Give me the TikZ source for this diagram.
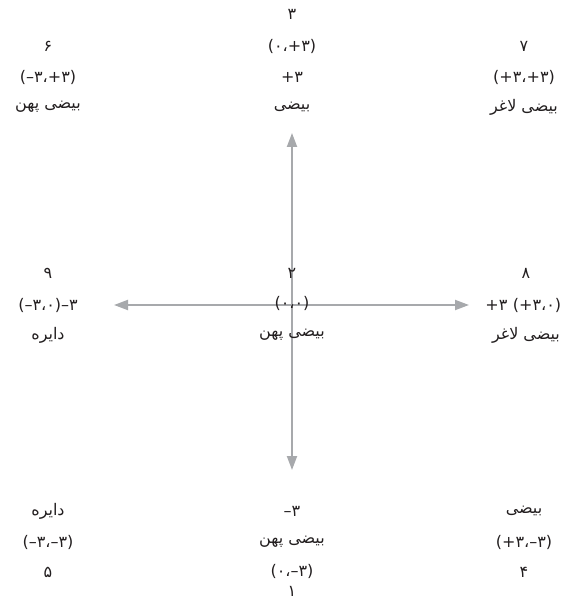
\documentclass[tikz,border=0pt]{standalone}
\usepackage{fontspec}
\usepackage{xcolor}
\usepackage{tikz}
\usetikzlibrary{arrows.meta,positioning}
\TeXXeTstate=1
\newfontfamily\arabicfont[Script=Arabic]{DejaVu Sans}
\definecolor{axisgray}{HTML}{A7A9AC}
\definecolor{textdark}{HTML}{231F20}
\tikzset{
  lbl/.style={font=\arabicfont\fontsize{16}{19}\selectfont,text=textdark,inner sep=0pt,anchor=center},
  axis/.style={{Triangle[length=14pt,width=10pt]}-{Triangle[length=14pt,width=10pt]},line width=2pt,draw=axisgray}
}

\begin{document}
\begin{tikzpicture}[x=1pt,y=-1pt]
  \useasboundingbox (0,0) rectangle (574,601);
  % axes
  \coordinate (ytop) at (292,133);
  \coordinate (ybot) at (292,470);
  \coordinate (xleft) at (114,305);
  \coordinate (xright) at (469,305);
  \draw[axis] (ybot) -- (ytop);
  \draw[axis] (xleft) -- (xright);
  % top row
  \node[lbl] (num6) at (48,46) {۶};
  \node[lbl] (pt6) at (48,77) {(۳+،۳–)};
  \node[lbl] (name6) at (48,107) {\beginR بیضی پهن\endR};
  \node[lbl] (num3) at (292,14) {۳};
  \node[lbl] (pt3) at (292,46) {(۳+،۰)};
  \node[lbl] (ymax) at (292,77) {۳+};
  \node[lbl] (name3) at (292,107) {\beginR بیضی\endR};
  \node[lbl] (num7) at (524,46) {۷};
  \node[lbl] (pt7) at (524,77) {(۳+،۳+)};
  \node[lbl] (name7) at (524,107) {\beginR بیضی لاغر\endR};
  % middle row
  \node[lbl] (num9) at (48,273) {۹};
  \node[lbl] (pt9) at (48,305) {۳–(۳،۰–)};
  \node[lbl] (name9) at (48,335) {\beginR دایره\endR};
  \node[lbl] (num2) at (292,273) {۲};
  \node[lbl] (pt2) at (292,303) {(۰،۰)};
  \node[lbl] (name2) at (292,335) {\beginR بیضی پهن\endR};
  \node[lbl] (num8) at (526,273) {۸};
  \node[lbl] (pt8) at (537,305) {(۳،۰+)};
  \node[lbl, left=5pt of pt8] (xmax) {۳+};
  \node[lbl] (name8) at (526,335) {\beginR بیضی لاغر\endR};
  % bottom row
  \node[lbl] (name5) at (48,511) {\beginR دایره\endR};
  \node[lbl] (pt5) at (48,542) {(۳–،۳–)};
  \node[lbl] (num5) at (48,572) {۵};
  \node[lbl] (ymin) at (292,511) {۳–};
  \node[lbl] (name1) at (292,542) {\beginR بیضی پهن\endR};
  \node[lbl] (pt1) at (292,571) {(۳–،۰)};
  \node[lbl] (num1) at (292,591) {۱};
  \node[lbl] (name4) at (524,511) {\beginR بیضی\endR};
  \node[lbl] (pt4) at (524,542) {(۳–،۳+)};
  \node[lbl] (num4) at (524,572) {۴};
\end{tikzpicture}
\end{document}
